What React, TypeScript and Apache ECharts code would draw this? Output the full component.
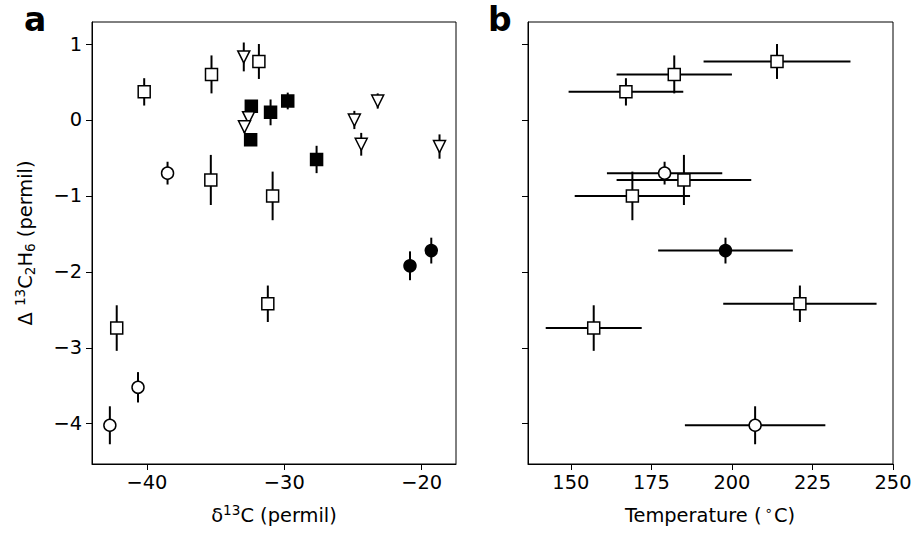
import React, { useEffect, useRef } from 'react';
import * as echarts from 'echarts';

// ---------- Panel a: δ13C (permil) vs Δ13C2H6 (permil) ----------
const aOpenSqX = [-40.2, -35.3, -31.85, -35.35, -30.85, -31.2, -42.2];
const aOpenSqY = [0.37, 0.6, 0.77, -0.79, -1.0, -2.42, -2.74];
const aOpenSqErr = [0.18, 0.25, 0.23, 0.33, 0.32, 0.24, 0.3];

const aFillSqX = [-32.4, -31.0, -29.75, -32.45, -27.65];
const aFillSqY = [0.18, 0.1, 0.25, -0.26, -0.52];
const aFillSqErr = [0.06, 0.17, 0.11, 0.06, 0.18];

const aTriX = [-32.95, -32.6, -32.9, -24.9, -23.2, -24.4, -18.7];
const aTriY = [0.83, 0.03, -0.09, 0.0, 0.25, -0.32, -0.35];
const aTriErr = [0.19, 0.08, 0.08, 0.12, 0.1, 0.15, 0.16];

const aOpenCircX = [-38.5, -40.65, -42.7];
const aOpenCircY = [-0.7, -3.52, -4.02];
const aOpenCircErr = [0.15, 0.2, 0.25];

const aFillCircX = [-20.85, -19.3];
const aFillCircY = [-1.92, -1.72];
const aFillCircErr = [0.19, 0.17];

// ---------- Panel b: Temperature (°C) vs Δ13C2H6 ----------
const bOpenSqT = [214.0, 182.1, 167.1, 185.1, 169.1, 221.1, 157.1];
const bOpenSqTErr = [22.8, 17.9, 17.8, 20.9, 17.9, 23.8, 14.9];
const bOpenSqY = [0.77, 0.6, 0.37, -0.79, -1.0, -2.42, -2.74];
const bOpenSqYErr = [0.23, 0.25, 0.18, 0.33, 0.32, 0.24, 0.3];

const bOpenCircT = [179.1, 207.2];
const bOpenCircTErr = [17.9, 21.8];
const bOpenCircY = [-0.7, -4.02];
const bOpenCircYErr = [0.15, 0.25];

const bFillCircT = [198.0];
const bFillCircTErr = [20.9];
const bFillCircY = [-1.72];
const bFillCircYErr = [0.17];

// ---------- Axes ----------
const aXTicks = [-40, -30, -20];
const bXTicks = [150, 175, 200, 225, 250];
const yTicks = [-4, -3, -2, -1, 0, 1];

const FONT = 'DejaVu Sans';
const FS = 19.4;

const fmt = (v: number) => String(v).replace('-', '\u2212');

const pts = (xs: number[], ys: number[]) => xs.map((x, i) => [x, ys[i]]);
const errRows = (xs: number[], ys: number[], xe: number[] | null, ye: number[]) =>
  xs.map((x, i) => [x, ys[i], xe ? xe[i] : 0, ye[i]]);

const errSeries = (idx: number, data: number[][]) => ({
  type: 'custom',
  xAxisIndex: idx,
  yAxisIndex: idx,
  silent: true,
  z: 1,
  clip: false,
  encode: { x: 0, y: 1 },
  data,
  renderItem: (_p: any, api: any) => {
    const x = api.value(0);
    const y = api.value(1);
    const xe = api.value(2);
    const ye = api.value(3);
    const st = { stroke: '#000', lineWidth: 2, fill: null };
    const children: any[] = [];
    if (ye > 0) {
      const p1 = api.coord([x, y - ye]);
      const p2 = api.coord([x, y + ye]);
      children.push({ type: 'line', shape: { x1: p1[0], y1: p1[1], x2: p2[0], y2: p2[1] }, style: st });
    }
    if (xe > 0) {
      const p1 = api.coord([x - xe, y]);
      const p2 = api.coord([x + xe, y]);
      children.push({ type: 'line', shape: { x1: p1[0], y1: p1[1], x2: p2[0], y2: p2[1] }, style: st });
    }
    return { type: 'group', children };
  },
});

const markerSeries = (idx: number, data: number[][], symbol: string, fill: string, rotate = 0) => ({
  type: 'scatter',
  xAxisIndex: idx,
  yAxisIndex: idx,
  silent: true,
  z: 3,
  symbol,
  symbolSize: 12,
  symbolRotate: rotate,
  itemStyle: { color: fill, borderColor: '#000', borderWidth: 1.5, opacity: 1 },
  data,
});

const axisCommon = {
  type: 'value',
  splitLine: { show: false },
  axisLine: { show: true, onZero: false, lineStyle: { color: '#000', width: 1 } },
};

const rich = {
  n: { fontSize: FS, fontFamily: FONT, color: '#000', lineHeight: 24 },
  s: { fontSize: 13.6, fontFamily: FONT, color: '#000', lineHeight: 16, verticalAlign: 'top' },
  d: { fontSize: 13.6, fontFamily: FONT, color: '#000', lineHeight: 16, verticalAlign: 'top', padding: [0, 1, 0, 3] },
  b: { fontSize: 13.6, fontFamily: FONT, color: '#000', lineHeight: 16, verticalAlign: 'bottom' },
};

export default function App() {
  const ref = useRef<HTMLDivElement>(null);
  useEffect(() => {
    const chart = echarts.init(ref.current!, null, { renderer: 'svg' });
    const option: any = {
      animation: false,
      backgroundColor: '#fff',
      textStyle: { fontFamily: FONT },
      grid: [
        { left: 92, top: 22, width: 364, height: 442, show: true, borderColor: '#000', borderWidth: 1 },
        { left: 528, top: 22, width: 365, height: 442, show: true, borderColor: '#000', borderWidth: 1 },
      ],
      xAxis: [
        {
          ...axisCommon,
          gridIndex: 0,
          min: -44,
          max: -17.5,
          axisTick: { show: true, length: 6, inside: false, customValues: aXTicks, lineStyle: { color: '#000' } },
          axisLabel: { customValues: aXTicks, formatter: fmt, fontSize: FS, fontFamily: FONT, color: '#000', margin: 9 },
        },
        {
          ...axisCommon,
          gridIndex: 1,
          min: 136.7,
          max: 250,
          axisTick: { show: true, length: 6, inside: false, customValues: bXTicks, lineStyle: { color: '#000' } },
          axisLabel: { customValues: bXTicks, formatter: fmt, fontSize: FS, fontFamily: FONT, color: '#000', margin: 9 },
        },
      ],
      yAxis: [
        {
          ...axisCommon,
          gridIndex: 0,
          min: -4.53,
          max: 1.29,
          axisTick: { show: true, length: 6, inside: false, customValues: yTicks, lineStyle: { color: '#000' } },
          axisLabel: { customValues: yTicks, formatter: fmt, fontSize: FS, fontFamily: FONT, color: '#000', margin: 10 },
        },
        {
          ...axisCommon,
          gridIndex: 1,
          min: -4.53,
          max: 1.29,
          axisTick: { show: true, length: 6, inside: false, customValues: yTicks, lineStyle: { color: '#000' } },
          axisLabel: { show: false, customValues: yTicks },
        },
      ],
      graphic: [
        { type: 'text', left: 24, top: 3, style: { text: 'a', fontSize: 33, fontWeight: 'bold', fontFamily: FONT, fill: '#000' } },
        { type: 'text', left: 488, top: 3, style: { text: 'b', fontSize: 33, fontWeight: 'bold', fontFamily: FONT, fill: '#000' } },
        {
          type: 'text',
          x: 25,
          y: 243,
          rotation: Math.PI / 2,
          style: { text: '{n|Δ }{s|13}{n|C}{b|2}{n|H}{b|6}{n| (permil)}', rich, align: 'center', verticalAlign: 'middle' },
        },
        {
          type: 'text',
          x: 274,
          y: 515,
          style: { text: '{n|δ}{s|13}{n|C (permil)}', rich, align: 'center', verticalAlign: 'middle' },
        },
        {
          type: 'text',
          x: 710,
          y: 515,
          style: { text: '{n|Temperature (}{d|∘}{n|C)}', rich, align: 'center', verticalAlign: 'middle' },
        },
      ],
      series: [
        errSeries(0, [
          ...errRows(aOpenSqX, aOpenSqY, null, aOpenSqErr),
          ...errRows(aFillSqX, aFillSqY, null, aFillSqErr),
          ...errRows(aTriX, aTriY, null, aTriErr),
          ...errRows(aOpenCircX, aOpenCircY, null, aOpenCircErr),
          ...errRows(aFillCircX, aFillCircY, null, aFillCircErr),
        ]),
        markerSeries(0, pts(aOpenSqX, aOpenSqY), 'rect', '#fff'),
        markerSeries(0, pts(aFillSqX, aFillSqY), 'rect', '#000'),
        markerSeries(0, pts(aTriX, aTriY), 'triangle', '#fff', 180),
        markerSeries(0, pts(aOpenCircX, aOpenCircY), 'circle', '#fff'),
        markerSeries(0, pts(aFillCircX, aFillCircY), 'circle', '#000'),
        errSeries(1, [
          ...errRows(bOpenSqT, bOpenSqY, bOpenSqTErr, bOpenSqYErr),
          ...errRows(bOpenCircT, bOpenCircY, bOpenCircTErr, bOpenCircYErr),
          ...errRows(bFillCircT, bFillCircY, bFillCircTErr, bFillCircYErr),
        ]),
        markerSeries(1, pts(bOpenSqT, bOpenSqY), 'rect', '#fff'),
        markerSeries(1, pts(bOpenCircT, bOpenCircY), 'circle', '#fff'),
        markerSeries(1, pts(bFillCircT, bFillCircY), 'circle', '#000'),
      ],
    };
    chart.setOption(option);
    return () => chart.dispose();
  }, []);
  return <div ref={ref} style={{ position: 'absolute', left: 0, top: 0, width: 919, height: 537 }} />;
}
